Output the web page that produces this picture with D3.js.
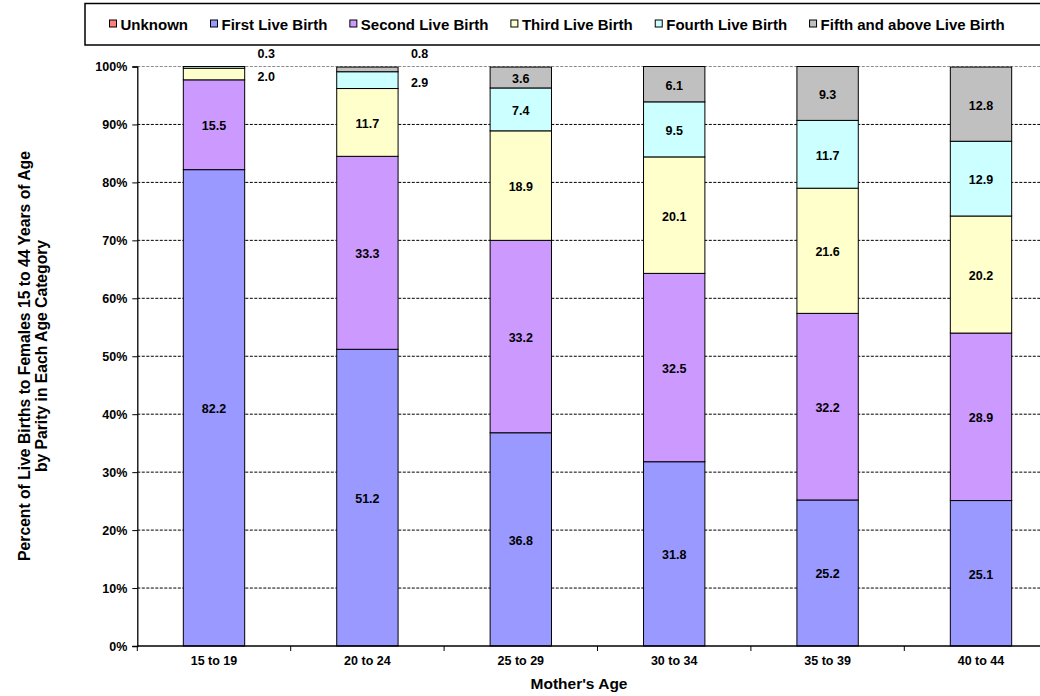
<!DOCTYPE html>
<html>
<head>
<meta charset="utf-8">
<script src="https://cdn.jsdelivr.net/npm/d3@7"></script>
<style>
	body { margin: 0; background: #fff; }
	svg { display: block; font-family: "Liberation Sans", Arial, sans-serif; font-weight: bold; }
</style>
</head>
<body>
<svg id="chart" width="1040" height="696"></svg>
<script>
var ages = ["15 to 19", "20 to 24", "25 to 29", "30 to 34", "35 to 39", "40 to 44"];
var unknown = [0, 0, 0, 0, 0, 0];
var first = [82.2, 51.2, 36.8, 31.8, 25.2, 25.1];
var second = [15.5, 33.3, 33.2, 32.5, 32.2, 28.9];
var third = [2.0, 11.7, 18.9, 20.1, 21.6, 20.2];
var fourth = [0.3, 2.9, 7.4, 9.5, 11.7, 12.9];
var fifth = [0.0, 0.8, 3.6, 6.1, 9.3, 12.8];
var seriesNames = ["Unknown", "First Live Birth", "Second Live Birth", "Third Live Birth", "Fourth Live Birth", "Fifth and above Live Birth"];
var yTicks = [0, 10, 20, 30, 40, 50, 60, 70, 80, 90, 100];

(function () {
	var colors = ["#ff7f7f", "#9999ff", "#cc99ff", "#ffffcc", "#ccffff", "#c0c0c0"];
	var seriesValues = [unknown, first, second, third, fourth, fifth];

	var rows = ages.map(function(a, i) {
		var r = { age: a };
		seriesNames.forEach(function(s, j) { r[s] = seriesValues[j][i]; });
		return r;
	});

	var svg = d3.select("#chart");

	var pLeft = 137.3, pRight = 1057.7, pTop = 66.5, pBottom = 646;

	var x = d3.scaleBand()
		.domain(ages)
		.range([pLeft, pRight])
		.paddingInner(0.6)
		.paddingOuter(0.3);

	var y = d3.scaleLinear()
		.domain([0, 100])
		.range([pBottom, pTop]);

	// gridlines
	svg.append("g").selectAll("line")
		.data(yTicks.filter(function(t) { return t > 0; }))
		.enter()
		.append("line")
		.attr("x1", pLeft)
		.attr("x2", pRight)
		.attr("y1", function(d) { return y(d); })
		.attr("y2", function(d) { return y(d); })
		.attr("stroke", function(d) { return d == 100 ? "#8c8c8c" : "#000"; })
		.attr("stroke-width", 1)
		.attr("stroke-dasharray", "3,1.5");

	// bars
	var layers = d3.stack().keys(seriesNames)(rows);

	var groups = svg.append("g").selectAll("g")
		.data(layers)
		.enter()
		.append("g")
		.attr("fill", function(d, i) { return colors[i]; });

	groups.selectAll("rect")
		.data(function(d) { return d.filter(function(p) { return p[1] - p[0] > 0; }); })
		.enter()
		.append("rect")
		.attr("x", function(d) { return x(d.data.age); })
		.attr("width", x.bandwidth())
		.attr("y", function(d) { return y(d[1]); })
		.attr("height", function(d) { return y(d[0]) - y(d[1]); })
		.attr("stroke", "#000")
		.attr("stroke-width", 1);

	// labels
	layers.forEach(function(layer) {
		layer.forEach(function(p) {
			var v = p[1] - p[0];
			if (v <= 0) return;
			var cx = x(p.data.age) + x.bandwidth() / 2;
			var cy = (y(p[0]) + y(p[1])) / 2 + 1;
			if (v < 3) {
				// small segments get their label outside the bar
				cx = x(p.data.age) + x.bandwidth() + 21.5;
				if (v < 1) cy = pTop - 12.5;
				else cy = cy + 1.5;
			}
			svg.append("text")
				.attr("x", cx)
				.attr("y", cy)
				.attr("dy", "0.35em")
				.attr("text-anchor", "middle")
				.attr("font-size", "12.5px")
				.attr("fill", "#000")
				.text(d3.format(".1f")(v));
		});
	});

	// y axis
	var yAxis = d3.axisLeft(y)
		.tickValues(yTicks)
		.tickSize(5)
		.tickPadding(5)
		.tickFormat(function(d) { return d + "%"; });

	var gy = svg.append("g")
		.attr("transform", "translate(" + pLeft + ",0)")
		.call(yAxis);
	gy.select(".domain").attr("stroke", "#000").attr("stroke-width", 1.3);
	gy.selectAll("line").attr("stroke", "#000");
	gy.selectAll("text")
		.attr("font-size", "12.5px")
		.attr("font-family", "Liberation Sans, Arial, sans-serif")
		.attr("font-weight", "bold")
		.attr("fill", "#000");

	// x axis
	var gx = svg.append("g")
		.attr("transform", "translate(0," + pBottom + ")");
	gx.append("line")
		.attr("x1", pLeft)
		.attr("x2", pRight)
		.attr("stroke", "#000")
		.attr("stroke-width", 1.3);
	gx.selectAll(".tk")
		.data(d3.range(ages.length + 1))
		.enter()
		.append("line")
		.attr("class", "tk")
		.attr("x1", function(i) { return pLeft + i * x.step(); })
		.attr("x2", function(i) { return pLeft + i * x.step(); })
		.attr("y1", 0)
		.attr("y2", 5)
		.attr("stroke", "#000");
	gx.selectAll("text")
		.data(ages)
		.enter()
		.append("text")
		.attr("x", function(d) { return x(d) + x.bandwidth() / 2; })
		.attr("y", 19)
		.attr("text-anchor", "middle")
		.attr("font-size", "12.5px")
		.text(function(d) { return d; });

	// axis titles
	svg.append("text")
		.attr("x", 579)
		.attr("y", 689)
		.attr("text-anchor", "middle")
		.attr("font-size", "15.5px")
		.text("Mother's Age");

	var yt = svg.append("text")
		.attr("transform", "translate(0,356) rotate(-90)")
		.attr("text-anchor", "middle")
		.attr("font-size", "15.7px");
	yt.append("tspan").attr("x", 0).attr("y", 30).text("Percent of Live Births to Females 15 to 44 Years of Age");
	yt.append("tspan").attr("x", 0).attr("y", 47).text("by Parity in Each Age Category");

	// legend
	var legend = svg.append("g");
	legend.append("rect")
		.attr("x", 85)
		.attr("y", 3.5)
		.attr("width", 1100)
		.attr("height", 41.5)
		.attr("fill", "#fff")
		.attr("stroke", "#000")
		.attr("stroke-width", 1.5);

	var lx = 109.5;
	seriesNames.forEach(function(s, i) {
		legend.append("rect")
			.attr("x", lx)
			.attr("y", 20)
			.attr("width", 7)
			.attr("height", 7)
			.attr("fill", colors[i])
			.attr("stroke", "#000")
			.attr("stroke-width", 1);
		var t = legend.append("text")
			.attr("x", lx + 11)
			.attr("y", 30)
			.attr("font-size", "15px")
			.text(s);
		lx = lx + 11 + t.node().getComputedTextLength() + 22.5;
	});
}());
</script>
</body>
</html>
